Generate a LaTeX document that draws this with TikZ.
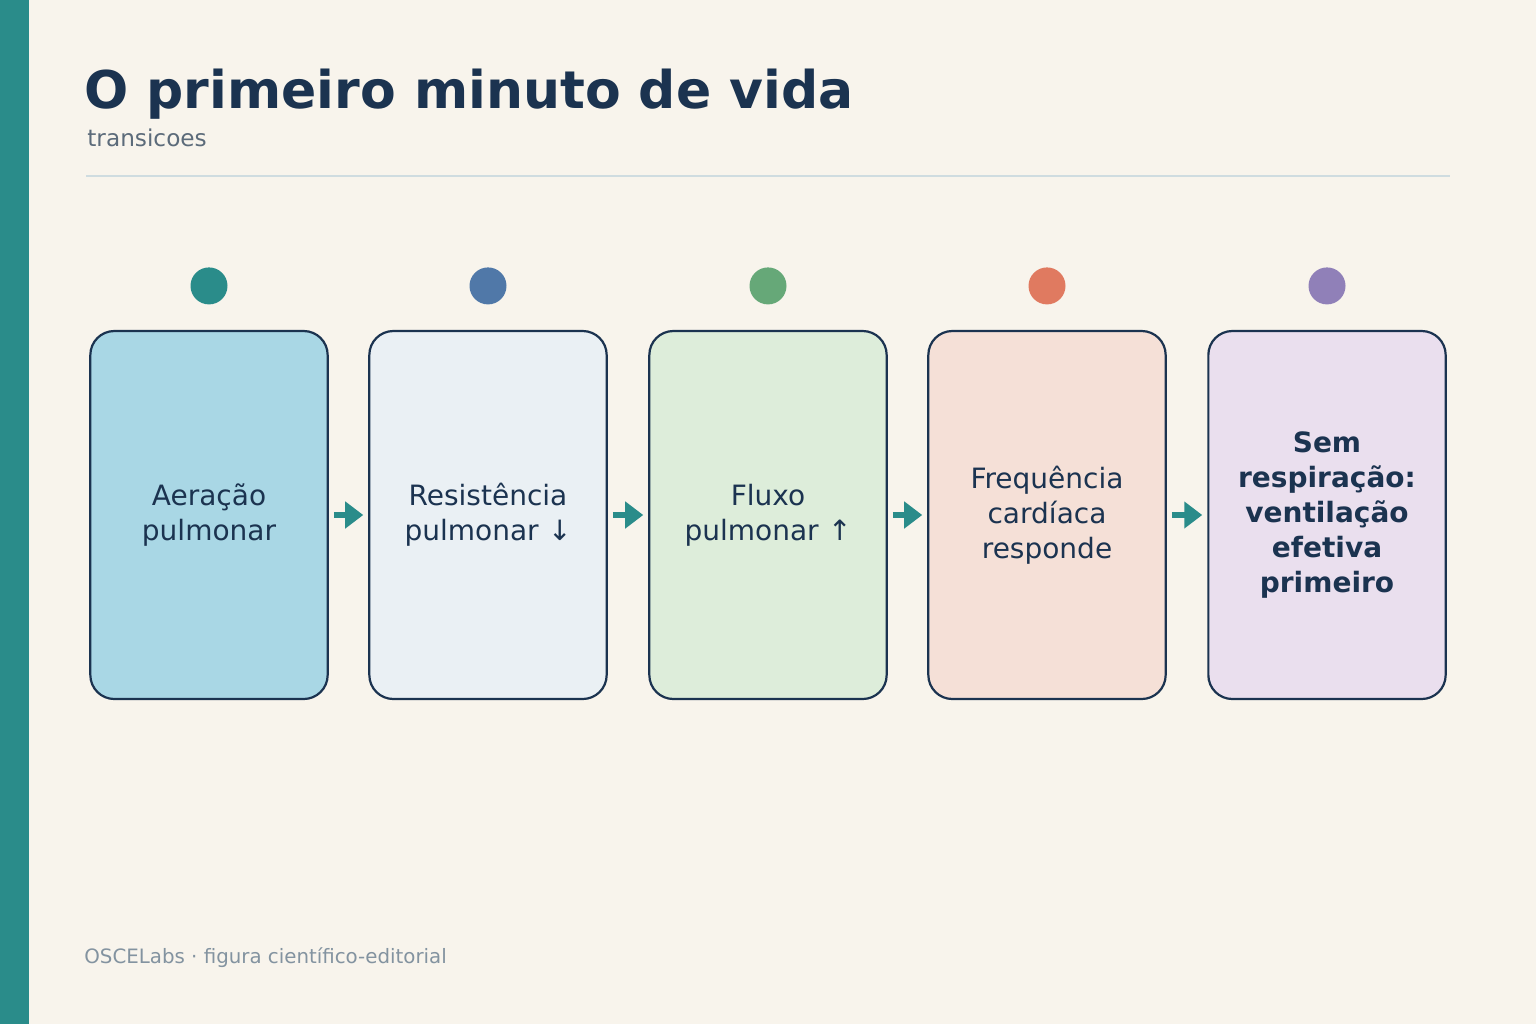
\documentclass[tikz,border=0pt]{standalone}
\usepackage{fontspec}
\setmainfont{DejaVu Sans}
\usetikzlibrary{positioning,arrows.meta}
\definecolor{paper}{HTML}{F8F4EC}
\definecolor{teal}{HTML}{2A8C8A}
\definecolor{ink}{HTML}{1B3350}
\definecolor{rule}{HTML}{CFDCE0}
\definecolor{subgray}{HTML}{5C6B7A}
\definecolor{footgray}{HTML}{8393A0}
\definecolor{fillA}{HTML}{A9D7E5}
\definecolor{fillB}{HTML}{EAF0F4}
\definecolor{fillC}{HTML}{DDEDDA}
\definecolor{fillD}{HTML}{F5E0D7}
\definecolor{fillE}{HTML}{EADFEE}
\definecolor{dotA}{HTML}{2A8C8A}
\definecolor{dotB}{HTML}{5078A8}
\definecolor{dotC}{HTML}{66A878}
\definecolor{dotD}{HTML}{E07A60}
\definecolor{dotE}{HTML}{9080B8}
\tikzset{
  stage/.style={draw=ink, line width=1.1pt, rounded corners=12pt, minimum width=118pt,
    minimum height=184pt, text width=112pt, align=center, font=\fontsize{14}{17.5}\selectfont, text=ink},
  dot/.style={circle, minimum size=18.5pt, inner sep=0pt},
  flow/.style={-{Triangle[length=9pt,width=13pt]}, teal, line width=3pt, shorten >=2.5pt, shorten <=2.5pt}
}
\begin{document}
\begin{tikzpicture}[x=0.5pt,y=-0.5pt]
\useasboundingbox (0,0) rectangle (1536,1024);
\fill[paper] (0,0) rectangle (1536,1024);
\fill[teal] (0,0) rectangle (29,1024);
\node[anchor=base west, inner sep=0pt, text=ink, font=\bfseries\fontsize{26}{30}\selectfont] (title) at (84,108) {O primeiro minuto de vida};
\node[anchor=base west, inner sep=0pt, text=subgray, font=\fontsize{11.6}{13}\selectfont] (sub) at (87,146) {transicoes};
\draw[rule, line width=1.2pt] (86,176) -- (1450,176);

\node[stage, fill=fillA] (s1) at (209,515) {Aeração\\pulmonar};
\node[stage, fill=fillB] (s2) at (488,515) {Resistência\\pulmonar ↓};
\node[stage, fill=fillC] (s3) at (768,515) {Fluxo\\pulmonar ↑};
\node[stage, fill=fillD] (s4) at (1047,515) {Frequência\\cardíaca\\responde};
\node[stage, fill=fillE, font=\bfseries\fontsize{14}{17.5}\selectfont] (s5) at (1327,515) {Sem\\respiração:\\ventilação\\efetiva\\primeiro};

\foreach \s/\c in {s1/dotA,s2/dotB,s3/dotC,s4/dotD,s5/dotE}
  \node[dot, fill=\c] (d\s) at ([yshift=22pt]\s.north) {};

\foreach \a/\b in {s1/s2,s2/s3,s3/s4,s4/s5}
  \draw[flow] (\a) -- (\b);

\node[anchor=base west, inner sep=0pt, text=footgray, font=\fontsize{9.9}{11}\selectfont] (foot) at (84,963) {OSCELabs · figura científico-editorial};
\end{tikzpicture}
\end{document}
